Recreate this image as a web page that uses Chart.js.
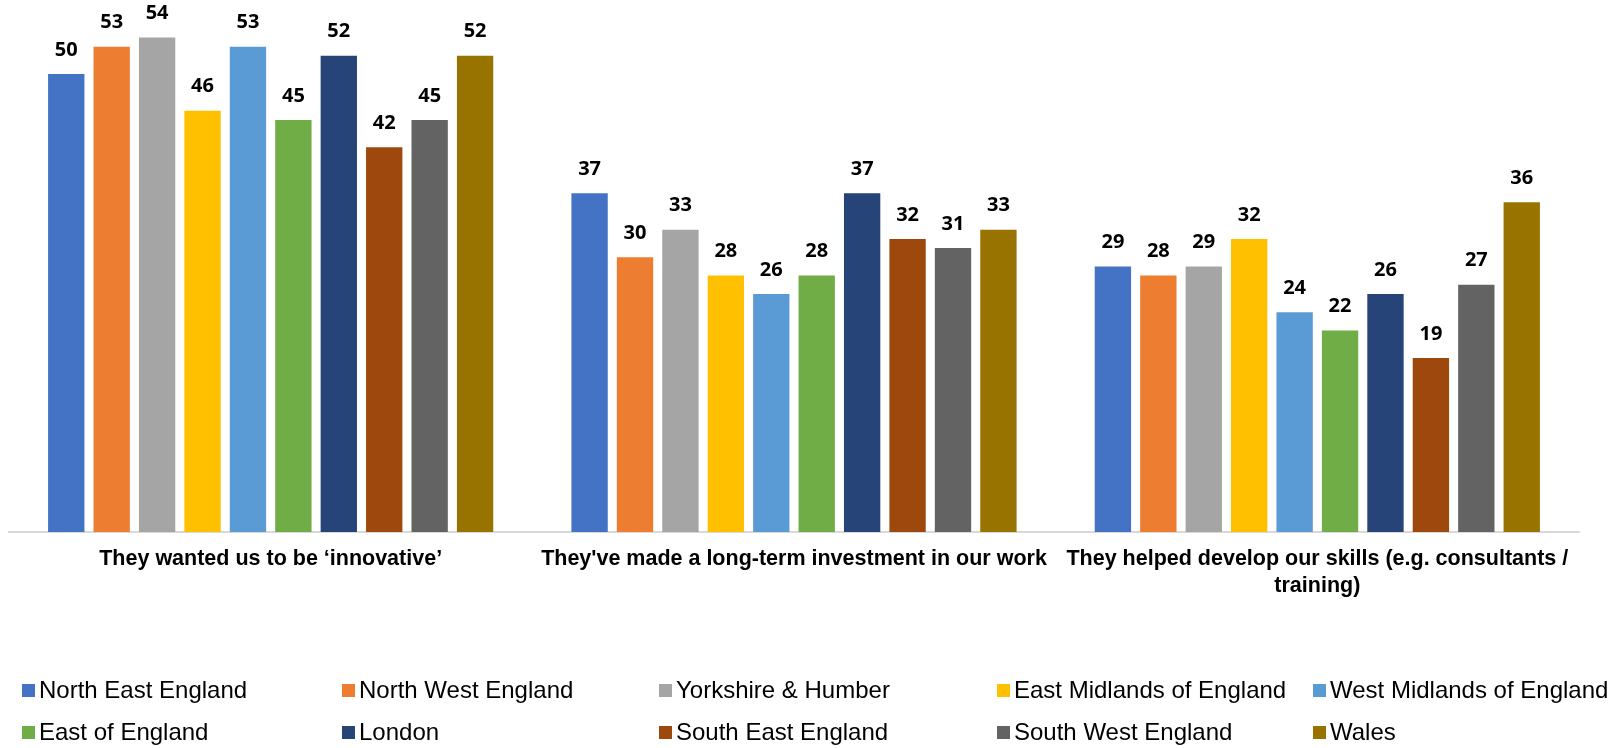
<!DOCTYPE html>
<html>
<head>
<meta charset="utf-8">
<script src="https://cdn.jsdelivr.net/npm/chart.js@4"></script>
<style>
  body { margin: 0; background: #fff; }
  #wrap { position: relative; width: 1623px; height: 748px; }
  #legend { position: absolute; left: 0; top: 0; width: 1623px; height: 748px; pointer-events: none;
            font-family: "Liberation Sans", Arial, sans-serif; font-size: 24px; color: #000; }
  .item { position: absolute; white-space: nowrap; line-height: 24px; }
  .box { display: inline-block; width: 13px; height: 13px; margin-right: 4px; vertical-align: 1px; }
</style>
</head>
<body>
<div id="wrap">
  <canvas id="mycanvas" width="1623" height="748"></canvas>
  <div id="legend"></div>
</div>
<script>
var categories = [
    "They wanted us to be \u2018innovative\u2019",
    "They've made a long-term investment in our work",
    ["They helped develop our skills (e.g. consultants /", "training)"]
];
var regions = ["North East England", "North West England", "Yorkshire & Humber", "East Midlands of England",
    "West Midlands of England", "East of England", "London", "South East England", "South West England", "Wales"];
var colors = ["#4472C4", "#ED7D31", "#A5A5A5", "#FFC000", "#5B9BD5", "#70AD47", "#264478", "#9E480E", "#636363", "#997300"];

var northEast = [50, 37, 29];
var northWest = [53, 30, 28];
var yorkshire = [54, 33, 29];
var eastMidlands = [46, 28, 32];
var westMidlands = [53, 26, 24];
var eastOfEngland = [45, 28, 22];
var london = [52, 37, 26];
var southEast = [42, 32, 19];
var southWest = [45, 31, 27];
var wales = [52, 33, 36];

var values = [northEast, northWest, yorkshire, eastMidlands, westMidlands, eastOfEngland, london, southEast, southWest, wales];

var datasets = [];
for (var i = 0; i < regions.length; i++) {
    datasets.push({
        label: regions[i],
        data: values[i],
        backgroundColor: colors[i],
        categoryPercentage: 0.868,
        barPercentage: 0.8
    });
}

// value labels above each bar
var barLabels = {
    id: "barLabels",
    afterDatasetsDraw: function(chart) {
        var ctx = chart.ctx;
        ctx.save();
        ctx.font = "bold 20px 'Open Sans', sans-serif";
        ctx.fillStyle = "#000";
        ctx.textAlign = "center";
        ctx.textBaseline = "middle";
        chart.data.datasets.forEach(function(ds, i) {
            chart.getDatasetMeta(i).data.forEach(function(bar, j) {
                ctx.fillText(ds.data[j], bar.x, bar.y - 24);
            });
        });
        ctx.restore();
    }
};

var chrt = document.getElementById("mycanvas").getContext("2d");
var myChart = new Chart(chrt, {
    type: "bar",
    data: { labels: categories, datasets: datasets },
    plugins: [barLabels],
    options: {
        responsive: false,
        animation: false,
        layout: { padding: { left: 9, right: 44, top: 10, bottom: 146 } },
        plugins: { legend: { display: false }, tooltip: { enabled: false } },
        scales: {
            x: {
                grid: { display: false, drawTicks: false },
                border: { display: true, color: "#D9D9D9", width: 2 },
                ticks: {
                    color: "#000",
                    padding: 13,
                    maxRotation: 0,
                    autoSkip: false,
                    font: { family: "'Liberation Sans', Arial, sans-serif", size: 21.5, weight: "bold", lineHeight: 1.28 }
                },
                afterFit: function(scale) { scale.height = 70; }
            },
            y: {
                display: false,
                min: 0,
                max: 57
            }
        }
    }
});

// legend laid out in a 5 x 2 grid like the original
var colX = [22, 342, 659, 997, 1313];
var rowY = [690, 732];
var legend = document.getElementById("legend");
for (var k = 0; k < regions.length; k++) {
    var el = document.createElement("div");
    el.className = "item";
    el.style.left = colX[k % 5] + "px";
    el.style.top = (rowY[Math.floor(k / 5)] - 12) + "px";
    el.innerHTML = '<span class="box" style="background:' + colors[k] + '"></span>';
    el.appendChild(document.createTextNode(regions[k]));
    legend.appendChild(el);
}
</script>
</body>
</html>
